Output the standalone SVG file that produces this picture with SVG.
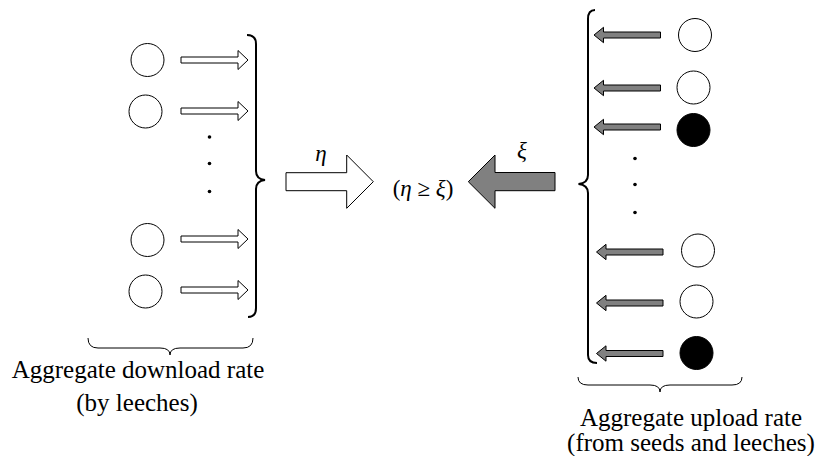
<svg xmlns="http://www.w3.org/2000/svg" width="818" height="456" viewBox="0 0 818 456">
<style>
.peer{fill:#fff;stroke:#000;stroke-width:1}
.seed{fill:#000;stroke:#000;stroke-width:1}
.wa{fill:#fff;stroke:#000;stroke-width:1;stroke-linejoin:miter}
.ga{fill:#808080;stroke:#000;stroke-width:1;stroke-linejoin:miter}
.brace{fill:none;stroke:#000;stroke-width:2}
.ubrace{fill:none;stroke:#000;stroke-width:1}
.dot{fill:#000}
.lbl{font-family:'Liberation Serif','Times New Roman',serif;font-size:25px;text-anchor:middle;fill:#000}
.math{font-family:'Liberation Serif','Times New Roman',serif;font-size:23px;text-anchor:middle;fill:#000}
.it{font-style:italic}
</style>
<defs>
<path id="wArrow" d="M0,-3 L57,-3 L57,-9.5 L67,0 L57,9.5 L57,3 L0,3 Z"/>
<path id="gArrow" d="M0,0 L9.5,-7.7 L9.5,-3 L66.5,-3 L66.5,3 L9.5,3 L9.5,7.7 Z"/>
</defs>

<g id="leeches-left">
<g id="leech1"><circle class="peer" cx="147.5" cy="60" r="16.5"/></g>
<g id="leech2"><circle class="peer" cx="145.5" cy="111.5" r="16.5"/></g>
<g id="leech3"><circle class="peer" cx="147.5" cy="240" r="16.5"/></g>
<g id="leech4"><circle class="peer" cx="145.5" cy="291.5" r="16.5"/></g>
<circle class="dot" cx="209.5" cy="137" r="1.8"/>
<circle class="dot" cx="209.5" cy="163.5" r="1.8"/>
<circle class="dot" cx="209.5" cy="191.5" r="1.8"/>
</g>

<g id="peers-right">
<g id="peer1"><circle class="peer" cx="695" cy="35" r="16.5"/></g>
<g id="peer2"><circle class="peer" cx="693.5" cy="87.5" r="16.5"/></g>
<g id="seed1"><circle class="seed" cx="693.5" cy="130" r="16.5"/></g>
<g id="peer3"><circle class="peer" cx="698" cy="250.5" r="16.5"/></g>
<g id="peer4"><circle class="peer" cx="696.5" cy="301.5" r="16.5"/></g>
<g id="seed2"><circle class="seed" cx="696.5" cy="353" r="16.5"/></g>
<circle class="dot" cx="635" cy="158.5" r="1.8"/>
<circle class="dot" cx="635" cy="184.5" r="1.8"/>
<circle class="dot" cx="635" cy="212.5" r="1.8"/>
</g>

<g id="aggregate-download">
<path class="wa" d="M286,172.7 L346.7,172.7 L346.7,155 L373.3,181.7 L346.7,208.3 L346.7,190.7 L286,190.7 Z"/>
<text class="math it" font-family="Liberation Serif, serif" x="321" y="161">η</text>
</g>

<g id="comparison">
<text class="math" font-family="Liberation Serif, serif" x="423" y="196">(<tspan class="it">η</tspan> ≥ <tspan class="it">ξ</tspan>)</text>
</g>

<g id="aggregate-upload">
<path class="ga" d="M468.3,181.7 L495,155 L495,172.5 L555,172.5 L555,190.7 L495,190.7 L495,208.3 Z"/>
<text class="math it" font-family="Liberation Serif, serif" x="522" y="158">ξ</text>
</g>

<g id="connectors">
<use href="#wArrow" class="wa" x="181" y="60"/>
<use href="#wArrow" class="wa" x="181" y="111"/>
<use href="#wArrow" class="wa" x="181" y="239"/>
<use href="#wArrow" class="wa" x="181" y="290"/>
<use href="#gArrow" class="ga" x="594" y="35"/>
<use href="#gArrow" class="ga" x="594" y="88"/>
<use href="#gArrow" class="ga" x="594" y="127"/>
<use href="#gArrow" class="ga" x="596.5" y="252"/>
<use href="#gArrow" class="ga" x="596.5" y="303"/>
<use href="#gArrow" class="ga" x="596.5" y="353.5"/>
<path class="brace" d="M247,35 Q256,35 256,44 L256,171 Q256,179 265,180 Q256,181 256,189 L256,308 Q256,317 248,317"/>
<path class="brace" d="M595,10 Q588,10 588,19 L588,175 Q588,183 578.5,184 Q588,185 588,193 L588,355 Q588,363 597,363"/>
<path class="ubrace" d="M88,338 Q88,348 98,348 L160,348 Q170,348 170,355 Q170,348 180,348 L243,348 Q253,348 253,338"/>
<path class="ubrace" d="M578,377 Q578,385 588,385 L650,385 Q660,385 660,392 Q660,385 670,385 L732,385 Q742,385 742,377"/>
</g>

<g id="labels">
<text class="lbl" font-family="Liberation Serif, serif" x="138" y="378">Aggregate download rate</text>
<text class="lbl" font-family="Liberation Serif, serif" x="137" y="411">(by leeches)</text>
<text class="lbl" font-family="Liberation Serif, serif" x="691" y="426">Aggregate upload rate</text>
<text class="lbl" font-family="Liberation Serif, serif" x="691" y="451">(from seeds and leeches)</text>
</g>
</svg>
